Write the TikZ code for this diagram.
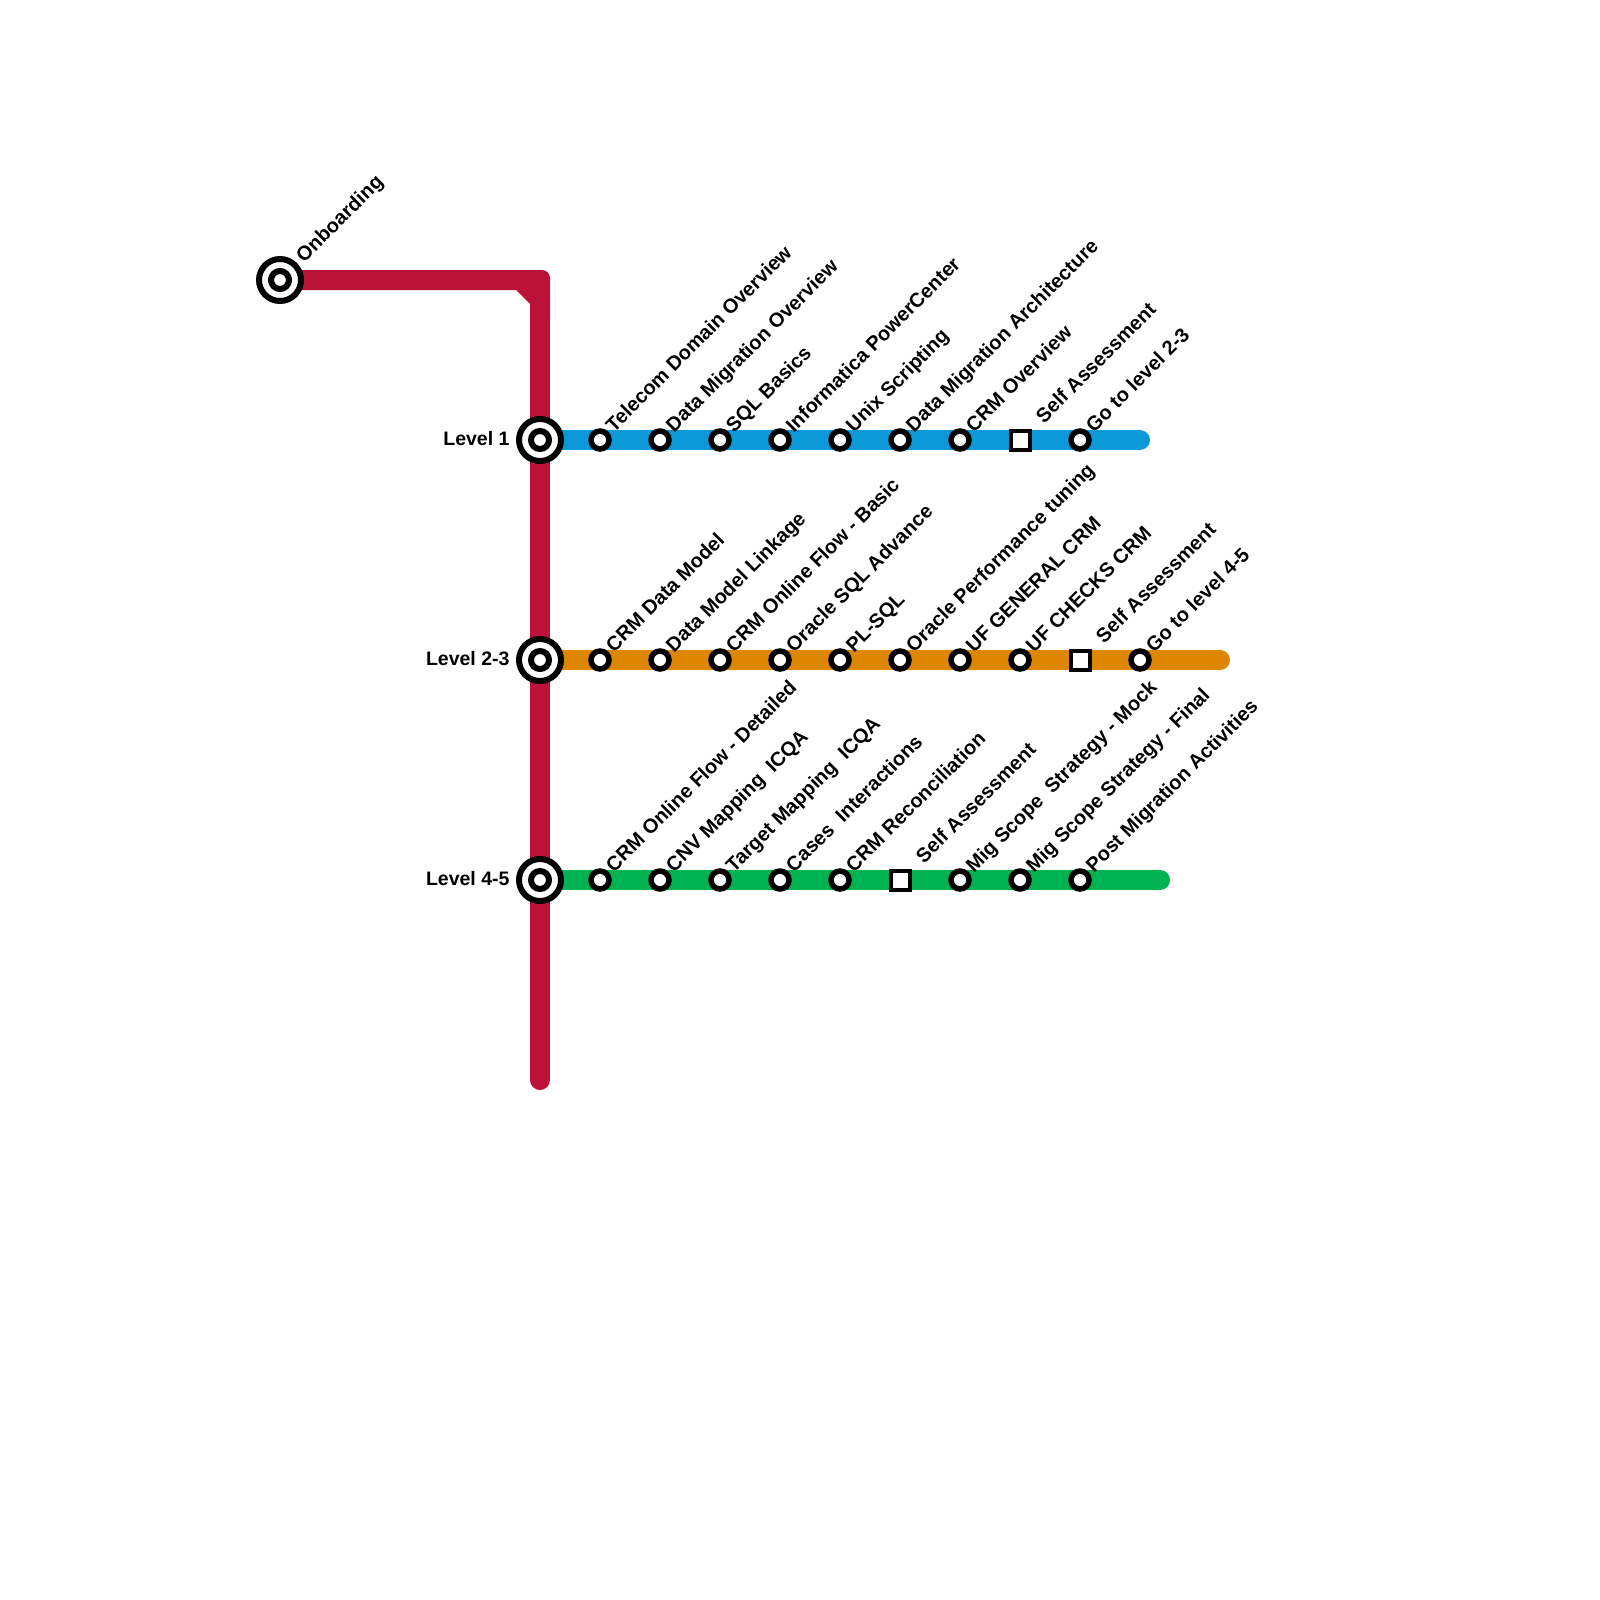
\documentclass[tikz,border=0pt]{standalone}
\usepackage{fontspec}
\setmainfont{Liberation Sans}
\definecolor{redline}{HTML}{BC1138}
\definecolor{blueline}{HTML}{0A98D8}
\definecolor{orangeline}{HTML}{DE8600}
\definecolor{greenline}{HTML}{00B251}
\tikzset{
  metro/.style={line width=20pt,line cap=round},
  bigring/.style={circle,draw=black,fill=white,line width=6pt,minimum size=42pt,inner sep=0pt,outer sep=0pt},
  midring/.style={circle,draw=black,fill=white,line width=6pt,minimum size=18pt,inner sep=0pt,outer sep=0pt},
  stop/.style={circle,draw=black,fill=white,line width=5.5pt,minimum size=18pt,inner sep=0pt,outer sep=0pt},
  check/.style={rectangle,draw=black,fill=white,line width=4pt,minimum size=19pt,inner sep=0pt,outer sep=0pt},
  lab/.style={font=\bfseries\fontsize{20pt}{22pt}\selectfont,text=black,inner sep=0pt,outer sep=0pt},
  tilt/.style={lab,rotate=45,anchor=base west},
  levellab/.style={lab,font=\bfseries\fontsize{19.5pt}{22pt}\selectfont,anchor=base east}
}
\newcommand{\tl}[2]{\node[tilt] (t#1) at ([shift={(14pt,7pt)}]#1.center) {#2};}
\newcommand{\tq}[2]{\node[tilt] (t#1) at ([shift={(24pt,16pt)}]#1.center) {#2};}
\begin{document}
\begin{tikzpicture}[x=1pt,y=-1pt]
\useasboundingbox (0,0) rectangle (1600,1600);
\fill[white] (0,0) rectangle (1600,1600);
% line ends
\coordinate (redend) at (540,1080);
\coordinate (blueend) at (1140,440);
\coordinate (orangeend) at (1220,660);
\coordinate (greenend) at (1160,880);
\coordinate (corner) at (540,280);
% terminals
\coordinate (onb) at (280,280);
\coordinate (l1) at (540,440);
\coordinate (l2) at (540,660);
\coordinate (l3) at (540,880);
% coloured lines
\draw[metro,blueline] (l1) -- (blueend);
\draw[metro,orangeline] (l2) -- (orangeend);
\draw[metro,greenline] (l3) -- (greenend);
\draw[metro,redline] (corner) -- (redend);
\fill[redline] (280,270) -- (542,270) arc[start angle=90,end angle=0,radius=8pt] -- (550,320) -- (530,320) -- (530,304) -- (516,290) -- (280,290) -- cycle;
% interchange stations
\foreach \n in {onb,l1,l2,l3}{
  \node[bigring] (\n big) at (\n) {};
  \node[midring] (\n mid) at (\n) {};
}
\node[tilt] (tonb) at (304,263.5) {Onboarding};
\node[levellab] (tl1) at (509.5,445) {Level 1};
\node[levellab] (tl2) at (509.5,665) {Level 2-3};
\node[levellab] (tl3) at (509.5,885) {Level 4-5};
% Level 1
\node[stop] (a1) at (600,440) {};
\node[stop] (a2) at (660,440) {};
\node[stop] (a3) at (720,440) {};
\node[stop] (a4) at (780,440) {};
\node[stop] (a5) at (840,440) {};
\node[stop] (a6) at (900,440) {};
\node[stop] (a7) at (960,440) {};
\node[check] (a8) at (1020,440) {};
\node[stop] (a9) at (1080,440) {};
\tl{a1}{Telecom Domain Overview}
\tl{a2}{Data Migration Overview}
\tl{a3}{SQL Basics}
\tl{a4}{Informatica PowerCenter}
\tl{a5}{Unix Scripting}
\tl{a6}{Data Migration Architecture}
\tl{a7}{CRM Overview}
\tq{a8}{Self Assessment}
\tl{a9}{Go to level 2-3}
% Level 2-3
\node[stop] (b1) at (600,660) {};
\node[stop] (b2) at (660,660) {};
\node[stop] (b3) at (720,660) {};
\node[stop] (b4) at (780,660) {};
\node[stop] (b5) at (840,660) {};
\node[stop] (b6) at (900,660) {};
\node[stop] (b7) at (960,660) {};
\node[stop] (b8) at (1020,660) {};
\node[check] (b9) at (1080,660) {};
\node[stop] (b10) at (1140,660) {};
\tl{b1}{CRM Data Model}
\tl{b2}{Data Model Linkage}
\tl{b3}{CRM Online Flow - Basic}
\tl{b4}{Oracle SQL Advance}
\tl{b5}{PL-SQL}
\tl{b6}{Oracle Performance tuning}
\tl{b7}{UF GENERAL CRM}
\tl{b8}{UF CHECKS CRM}
\tq{b9}{Self Assessment}
\tl{b10}{Go to level 4-5}
% Level 4-5
\node[stop] (c1) at (600,880) {};
\node[stop] (c2) at (660,880) {};
\node[stop] (c3) at (720,880) {};
\node[stop] (c4) at (780,880) {};
\node[stop] (c5) at (840,880) {};
\node[check] (c6) at (900,880) {};
\node[stop] (c7) at (960,880) {};
\node[stop] (c8) at (1020,880) {};
\node[stop] (c9) at (1080,880) {};
\tl{c1}{CRM Online Flow - Detailed}
\tl{c2}{CNV Mapping\ \ ICQA}
\tl{c3}{Target Mapping\ \ ICQA}
\tl{c4}{Cases\ \ Interactions}
\tl{c5}{CRM Reconciliation}
\tq{c6}{Self Assessment}
\tl{c7}{Mig Scope\ \ Strategy - Mock}
\tl{c8}{Mig Scope Strategy - Final}
\tl{c9}{Post Migration Activities}
\end{tikzpicture}
\end{document}
